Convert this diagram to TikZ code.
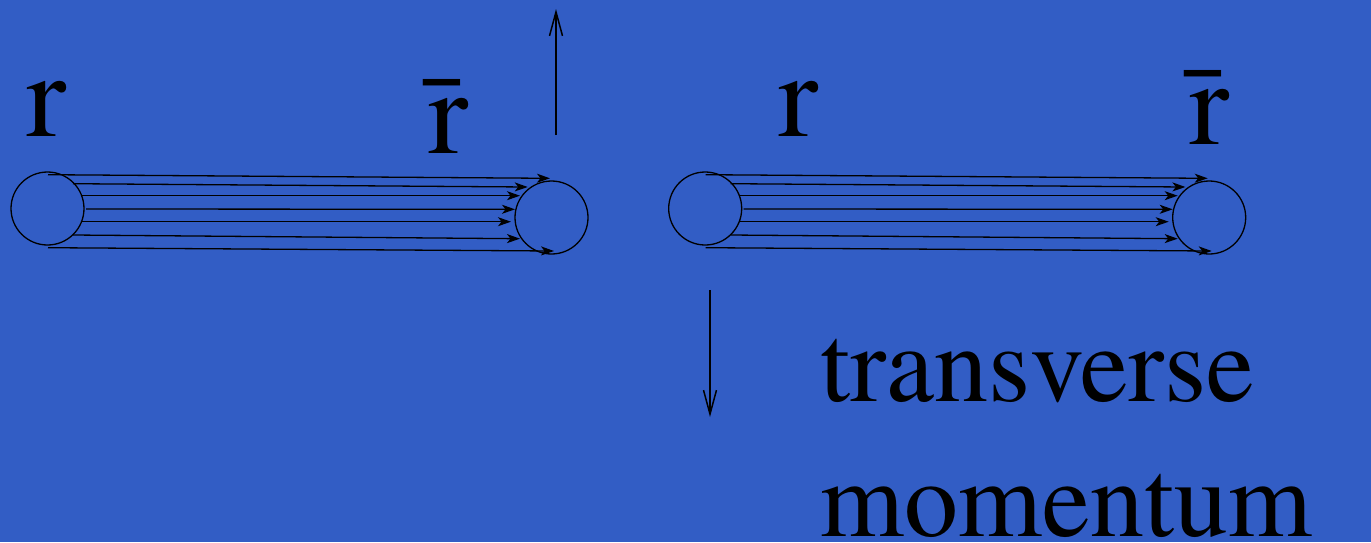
\documentclass[tikz,border=0pt]{standalone}
\usepackage{fontspec}
\newfontfamily\slidefont{TeX Gyre Termes}
\usetikzlibrary{arrows.meta,calc}
\definecolor{slide}{RGB}{50,93,197}
\tikzset{
  ring/.style={circle,draw,line width=1.3pt,minimum size=73pt,inner sep=0pt},
  flux/.style={line width=1.3pt,-{Stealth[length=13pt,width=9pt,inset=3.5pt]}},
  kick/.style={line width=1.5pt,-{Straight Barb[length=24pt,width=13pt]}},
  lbl/.style={inner sep=0pt,anchor=base west,font=\slidefont\fontsize{120}{130}\selectfont},
  word/.style={lbl,font=\slidefont\fontsize{108}{135}\selectfont}
}
\begin{document}
\begin{tikzpicture}[x=1pt,y=-1pt]
  \fill[slide] (0,0) rectangle (1371,542);
  \useasboundingbox (0,0) rectangle (1371,542);
  % two tubes, the second one shifted right
  \foreach \s/\t/\dx in {a/b/0, c/d/657.7} {
    \node[ring] (\s) at (47.5+\dx,208.5) {};
    \node[ring] (\t) at (551.5+\dx,217.5) {};
    \foreach \ax/\ay/\bx/\by in
      { 0.5/-33.8/-1.5/-39.2,
       25.5/-24.8/-23.8/-30.5,
       34.5/-12.8/-31.5/-21.8,
       38.5/0.5/-36.5/-8.2,
       34.5/13.2/-40.5/4.2,
       25.5/26.5/-31.5/21.2,
        0.5/39.2/2.5/33.5
      }
      \draw[flux] ($(\s.center)+(\ax,\ay)$) -- ($(\t.center)+(\bx,\by)$);
  }
  \node[lbl] (r1) at (26.7,136) {r};
  \node[lbl] (rb1) at (428,153) {\=r};
  \node[lbl] (r2) at (778.3,136) {r};
  \node[lbl] (rb2) at (1189,144) {\=r};
  \node[word] (tv) at (820,401.7) {transverse};
  \node[word] (mo) at (820,536.7) {momentum};
  \coordinate (up0) at (556,135);
  \coordinate (up1) at (556,9);
  \coordinate (dn0) at (710,290);
  \coordinate (dn1) at (710,417);
  \draw[kick] (up0) -- (up1);
  \draw[kick] (dn0) -- (dn1);
\end{tikzpicture}
\end{document}
